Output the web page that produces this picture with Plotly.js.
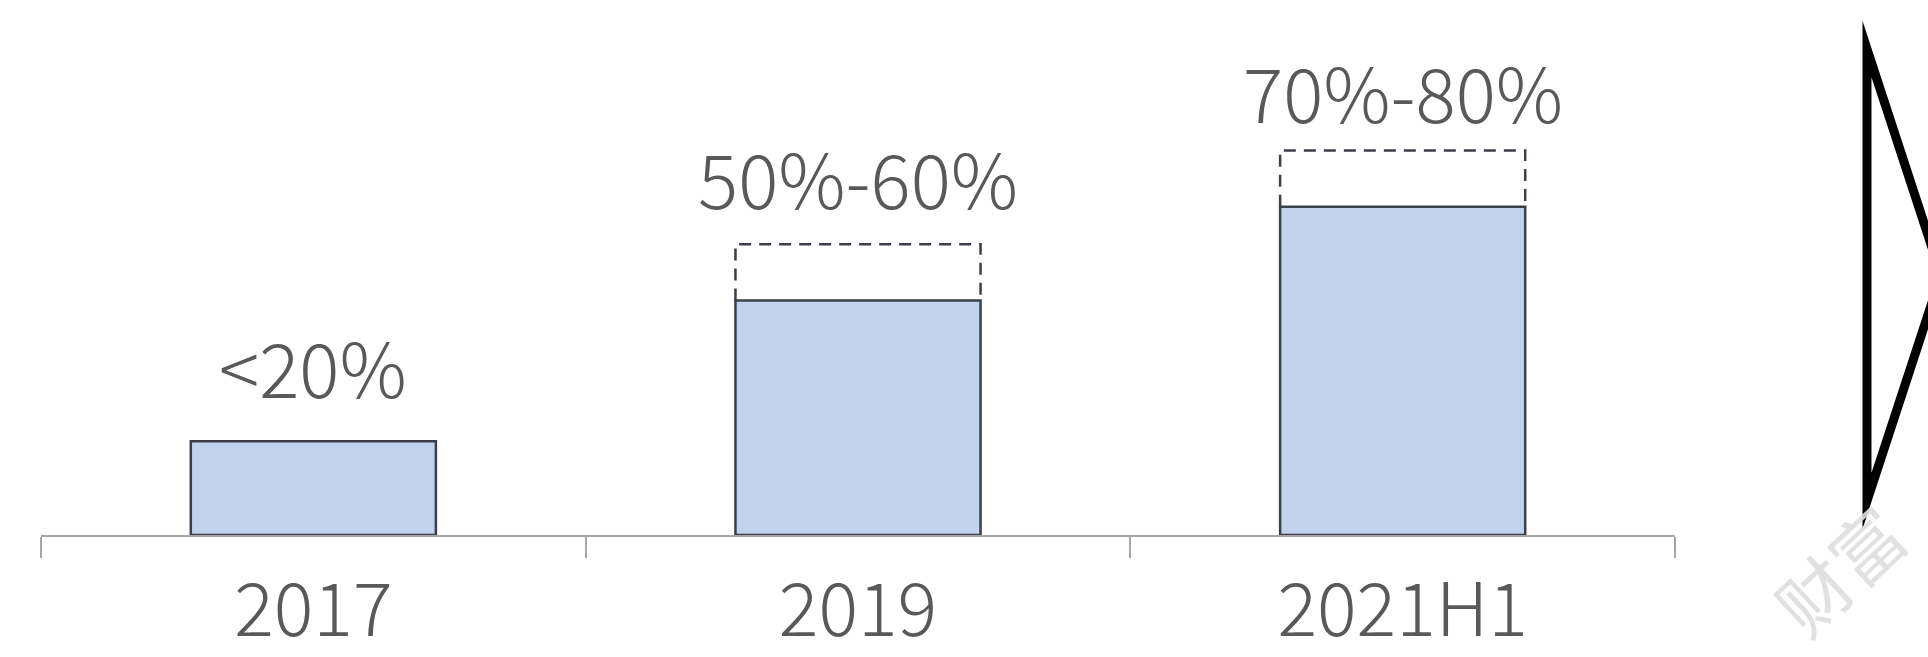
<!DOCTYPE html>
<html>
<head>
<meta charset="utf-8">
<script src="https://cdn.plot.ly/plotly-3.0.1.min.js"></script>
<style>
  html, body { margin: 0; padding: 0; background: #ffffff; }
  #chart { width: 1928px; height: 657px; }
  .shapelayer path { stroke-miterlimit: 12; }
</style>
</head>
<body>
<div id="chart"></div>
<script>
// ---- data ----
const categories = ['2017', '2019', '2021H1'];
const barValues = [20, 50, 70];          // solid bar heights
const rangeUpper = [null, 62, 82];       // top of dashed range box
const valueLabels = ['<20%', '50%-60%', '70%-80%'];

// ---- styles ----
const FONT = '"Noto Sans CJK SC", "Noto Sans", sans-serif';
const TEXT_COLOR = '#595959';
const BAR_FILL = '#c2d1ec';
const BAR_LINE = '#3b3f48';
const AXIS_COLOR = '#a6a6a6';
const BAR_WIDTH = 0.45;
const labelOffsetPx = [76, 68, 60];

const W = 1928, H = 657;
const M = { l: 41, r: 253, t: 0, b: 122 };
const plotW = W - M.l - M.r, plotH = H - M.t - M.b;
const Y_MAX = 114.07;

const traces = [];

traces.push({
  type: 'bar',
  x: categories,
  y: barValues,
  width: BAR_WIDTH,
  marker: { color: BAR_FILL, line: { color: BAR_LINE, width: 2.5 } },
  hoverinfo: 'skip',
  showlegend: false
});

// dashed open boxes on an overlaid numeric axis
categories.forEach((c, i) => {
  if (rangeUpper[i] == null) return;
  const x0 = i - BAR_WIDTH / 2, x1 = i + BAR_WIDTH / 2;
  traces.push({
    type: 'scatter',
    mode: 'lines',
    xaxis: 'x2',
    x: [x0, x0, x1, x1],
    y: [barValues[i], rangeUpper[i], rangeUpper[i], barValues[i]],
    line: { color: BAR_LINE, width: 2.5, dash: '12px,8px' },
    hoverinfo: 'skip',
    showlegend: false
  });
});

const annotations = categories.map((c, i) => ({
  x: i,
  y: rangeUpper[i] != null ? rangeUpper[i] : barValues[i],
  xref: 'x2', yref: 'y',
  text: valueLabels[i],
  showarrow: false,
  xanchor: 'center', yanchor: 'middle',
  yshift: labelOffsetPx[i],
  font: { family: FONT, size: 75, color: TEXT_COLOR, weight: 300 }
}));

// watermark
annotations.push({
  xref: 'paper', yref: 'paper',
  x: (1838 - M.l) / plotW, y: (M.t + plotH - 568) / plotH,
  xanchor: 'center', yanchor: 'middle',
  text: '财富', showarrow: false, textangle: -43,
  font: { family: FONT, size: 72, color: 'rgba(222,222,222,0.9)' }
});

// big outlined arrow on the right
const px = (v) => (v - M.l) / plotW;
const py = (v) => (M.t + plotH - v) / plotH;
const shapes = [{
  type: 'path', xref: 'paper', yref: 'paper',
  path: `M ${px(1867)} ${py(49)} L ${px(1867)} ${py(501)} L ${px(1941)} ${py(275)} Z`,
  line: { color: '#000000', width: 9 },
  fillcolor: 'rgba(0,0,0,0)'
}];

const layout = {
  width: W, height: H,
  margin: M,
  paper_bgcolor: '#ffffff',
  plot_bgcolor: '#ffffff',
  showlegend: false,
  xaxis: {
    type: 'category',
    range: [-0.5, 2.5],
    showgrid: false, zeroline: false,
    showline: true, linecolor: AXIS_COLOR, linewidth: 2,
    ticks: 'outside', tickson: 'boundaries', ticklen: 21, tickwidth: 2, tickcolor: AXIS_COLOR,
    ticklabelstandoff: 10,
    tickfont: { family: FONT, size: 74, color: TEXT_COLOR, weight: 300 },
    fixedrange: true
  },
  xaxis2: {
    overlaying: 'x', range: [-0.5, 2.5], visible: false, fixedrange: true
  },
  yaxis: {
    range: [0, Y_MAX], visible: false, showgrid: false, zeroline: false, fixedrange: true
  },
  annotations: annotations,
  shapes: shapes
};

Plotly.newPlot('chart', traces, layout, { displayModeBar: false, staticPlot: true });
</script>
</body>
</html>
